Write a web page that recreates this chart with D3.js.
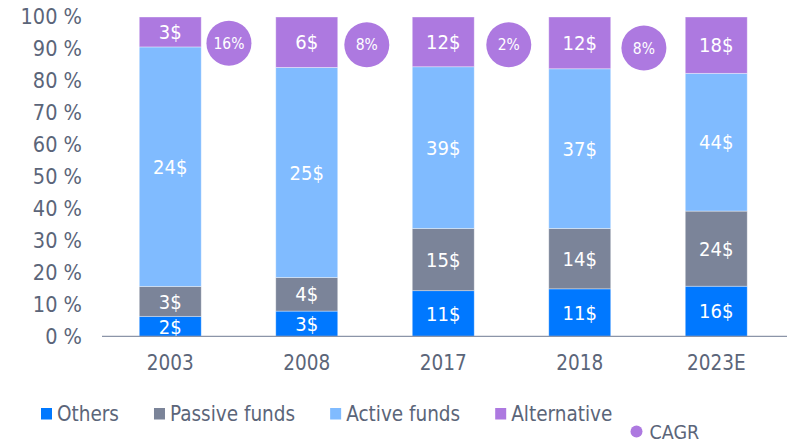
<!DOCTYPE html>
<html>
<head>
<meta charset="utf-8">
<script src="https://cdn.jsdelivr.net/npm/d3@7"></script>
<style>
  body { margin: 0; background: #fff; }
  text { font-family: "DejaVu Sans Condensed", "DejaVu Sans", sans-serif; }
</style>
</head>
<body>
<div class="chart"></div>
<script>
var width = 787
var height = 444

// data (bn $ per segment)
const years = ["2003", "2008", "2017", "2018", "2023E"]
const seriesNames = ["Others", "Passive funds", "Active funds", "Alternative"]
const others = [2, 3, 11, 11, 16]
const passive = [3, 4, 15, 14, 24]
const active = [24, 25, 39, 37, 44]
const alternative = [3, 6, 12, 12, 18]
const colors = ["#0078ff", "#7b8499", "#80bbff", "#ad79e0"]

// CAGR bubbles: position between categories (index) and height (%)
const cagrLabels = ["16%", "8%", "2%", "8%"]
const cagrX = [0.43, 1.44, 2.48, 3.47]
const cagrY = [91.8, 91.3, 91.3, 90.3]

const yTicks = [0, 10, 20, 30, 40, 50, 60, 70, 80, 90, 100]

const textCol = "#5b6579"

var rows = years.map((y, i) => ({
  year: y,
  "Others": others[i],
  "Passive funds": passive[i],
  "Active funds": active[i],
  "Alternative": alternative[i]
}))

var stacked = d3.stack()
  .keys(seriesNames)
  .offset(d3.stackOffsetExpand)(rows)

var svg = d3.select(".chart")
  .append("svg")
  .attr("width", width)
  .attr("height", height)

var x = d3.scaleBand()
  .domain(years)
  .range([102, 784.5])
  .paddingInner(0.546)
  .paddingOuter(0.273)

var y = d3.scaleLinear()
  .domain([0, 100])
  .range([336.3, 17])

// index scale for bubbles between the bars
var xi = d3.scaleLinear()
  .domain([0, years.length - 1])
  .range([x(years[0]) + x.bandwidth() / 2, x(years[years.length - 1]) + x.bandwidth() / 2])

// y tick labels, no axis line
var yAxis = svg.append("g")
  .attr("transform", "translate(102,0)")
  .call(d3.axisLeft(y).tickValues(yTicks).tickSize(0).tickPadding(20).tickFormat(d => d + " %"))
yAxis.select(".domain").remove()
yAxis.selectAll("text")
  .attr("fill", textCol)
  .style("font-size", "21.5px")

// bars
var groups = svg.append("g")
  .selectAll("g")
  .data(stacked)
  .enter()
  .append("g")
  .attr("fill", (d, i) => colors[i])

groups.selectAll("rect")
  .data(d => d.map(p => ({ p: p, key: d.key })))
  .enter()
  .append("rect")
  .attr("x", d => x(d.p.data.year))
  .attr("width", x.bandwidth())
  .attr("y", d => y(d.p[1] * 100))
  .attr("height", d => y(d.p[0] * 100) - y(d.p[1] * 100))
  .attr("stroke", "#ffffff")
  .attr("stroke-opacity", 0.45)
  .attr("stroke-width", 0.8)

groups.selectAll("text")
  .data(d => d.map(p => ({ p: p, key: d.key })))
  .enter()
  .append("text")
  .attr("x", d => x(d.p.data.year) + x.bandwidth() / 2)
  .attr("y", d => (y(d.p[0] * 100) + y(d.p[1] * 100)) / 2)
  .attr("dy", "0.36em")
  .attr("text-anchor", "middle")
  .attr("fill", "#ffffff")
  .style("font-size", "20px")
  .text(d => d.p.data[d.key] + "$")

// x axis
var xAxis = svg.append("g")
  .attr("transform", "translate(0,336.3)")
  .call(d3.axisBottom(x).tickSize(0).tickPadding(19))
xAxis.select(".domain")
  .attr("stroke", "#8c95a8")
  .attr("stroke-width", 1.3)
  .attr("d", "M102,0H787")
xAxis.selectAll("text")
  .attr("fill", textCol)
  .style("font-size", "20.5px")

// CAGR bubbles
var bub = svg.append("g")
  .selectAll("g")
  .data(cagrLabels)
  .enter()
  .append("g")
  .attr("transform", (d, i) => "translate(" + xi(cagrX[i]) + "," + y(cagrY[i]) + ")")
bub.append("circle")
  .attr("r", 22.5)
  .attr("fill", colors[3])
bub.append("text")
  .attr("text-anchor", "middle")
  .attr("dy", "0.36em")
  .attr("fill", "#ffffff")
  .style("font-size", "15.5px")
  .text(d => d)

// legend
var lg = svg.append("g").attr("transform", "translate(41,414)")
var lx = 0
seriesNames.forEach((name, i) => {
  lg.append("rect")
    .attr("x", lx)
    .attr("y", -6)
    .attr("width", 11)
    .attr("height", 11.5)
    .attr("fill", colors[i])
  var t = lg.append("text")
    .attr("x", lx + 16)
    .attr("dy", "0.36em")
    .attr("fill", textCol)
    .style("font-size", "20.5px")
    .text(name)
  lx += 16 + t.node().getComputedTextLength() + 35
})

var cg = svg.append("g").attr("transform", "translate(636.5,431.5)")
cg.append("circle").attr("r", 6).attr("fill", colors[3])
cg.append("text")
  .attr("x", 13)
  .attr("dy", "0.36em")
  .attr("fill", textCol)
  .style("font-size", "19.5px")
  .text("CAGR")
</script>
</body>
</html>
